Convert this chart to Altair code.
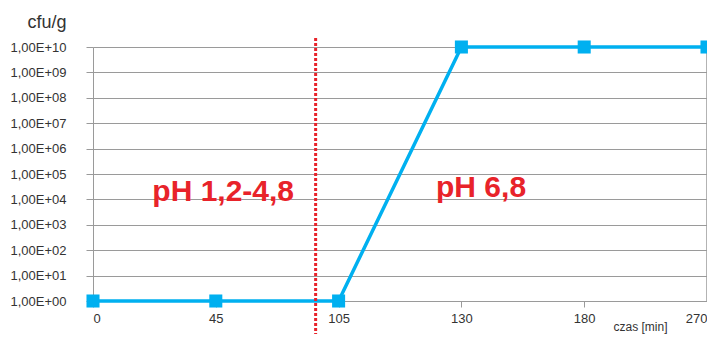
import altair as alt
import pandas as pd

# data
times = ["0", "45", "105", "130", "180", "270"]
cfu = [1, 1, 1, 1e10, 1e10, 1e10]
y_ticks = [1, 10, 100, 1e3, 1e4, 1e5, 1e6, 1e7, 1e8, 1e9, 1e10]

ph_labels = ["pH 1,2-4,8", "pH 6,8"]
ph_x = [1.06, 3.16]
ph_y = [10 ** 3.94, 10 ** 4.09]
boundary_x = [1.813]

FONT = "Liberation Sans"
BLUE = "#00B0F0"
RED = "#E8232A"
GRID = "#9A9A9A"

df = pd.DataFrame({"idx": list(range(len(times))), "time": times, "cfu": cfu})
df_lab = pd.DataFrame({"x": ph_x, "y": ph_y, "label": ph_labels})
df_b = pd.DataFrame({"x": boundary_x})
df_edge = pd.DataFrame({"x": [len(times) - 1]})

W, H = 614, 254

label_expr = "[" + ",".join("'" + t + "'" for t in times) + "][datum.value]"

x_scale = alt.Scale(domain=[0, len(times) - 1], nice=False, zero=False)
y_scale = alt.Scale(type="log", domain=[1, 1e10], nice=False)

x_axis = alt.Axis(
    values=list(range(len(times))),
    labelExpr=label_expr,
    grid=False,
    domainColor=GRID,
    tickColor=GRID,
    tickSize=6,
    labelPadding=5,
    labelFont=FONT,
    labelFontSize=13,
    labelColor="#333333",
    title="czas [min]",
    titleFont=FONT,
    titleFontSize=12,
    titleFontWeight="normal",
    titleColor="#333333",
    titleAlign="right",
    titleAnchor="end",
    titleX=574,
    titleY=29,
    titleBaseline="alphabetic",
)

y_axis = alt.Axis(
    values=y_ticks,
    labelExpr="'1,00E+' + (round(log(datum.value)/LN10) < 10 ? '0' : '') + round(log(datum.value)/LN10)",
    grid=True,
    gridColor=GRID,
    gridWidth=1,
    domainColor=GRID,
    tickColor=GRID,
    tickSize=7,
    labelPadding=20,
    labelFont=FONT,
    labelFontSize=13,
    labelColor="#333333",
    title="cfu/g",
    titleFont=FONT,
    titleFontSize=18,
    titleFontWeight="normal",
    titleColor="#333333",
    titleAngle=0,
    titleAlign="right",
    titleBaseline="alphabetic",
    titleX=-27,
    titleY=-20,
)

base = alt.Chart(df)

line = base.mark_line(color=BLUE, strokeWidth=3.5).encode(
    x=alt.X("idx:Q", scale=x_scale, axis=x_axis),
    y=alt.Y("cfu:Q", scale=y_scale, axis=y_axis),
)
pts = base.mark_point(shape="square", filled=True, color=BLUE, size=170, opacity=1).encode(
    x=alt.X("idx:Q", scale=x_scale),
    y=alt.Y("cfu:Q", scale=y_scale),
)

edge = alt.Chart(df_edge).mark_rule(color=GRID, strokeWidth=1.5).encode(
    x=alt.X("x:Q", scale=x_scale),
    y=alt.value(0),
    y2=alt.value(H),
)

boundary = alt.Chart(df_b).mark_rule(color=RED, strokeWidth=3, strokeDash=[3, 2]).encode(
    x=alt.X("x:Q", scale=x_scale),
    y=alt.value(-9),
    y2=alt.value(H + 45),
)

labels = alt.Chart(df_lab).mark_text(
    color=RED, font=FONT, fontSize=30, fontWeight="bold", align="center", baseline="alphabetic"
).encode(
    x=alt.X("x:Q", scale=x_scale),
    y=alt.Y("y:Q", scale=y_scale),
    text="label:N",
)

chart = (
    alt.layer(edge, line, pts, boundary, labels)
    .properties(
        width=W,
        height=H,
        autosize=alt.AutoSizeParams(type="none"),
        padding={"left": 85, "top": 39, "right": 0, "bottom": 33},
    )
    .configure_view(stroke=None)
    .configure(background="white")
)

chart.save("out.html", embed_options={"renderer": "svg", "actions": False})
